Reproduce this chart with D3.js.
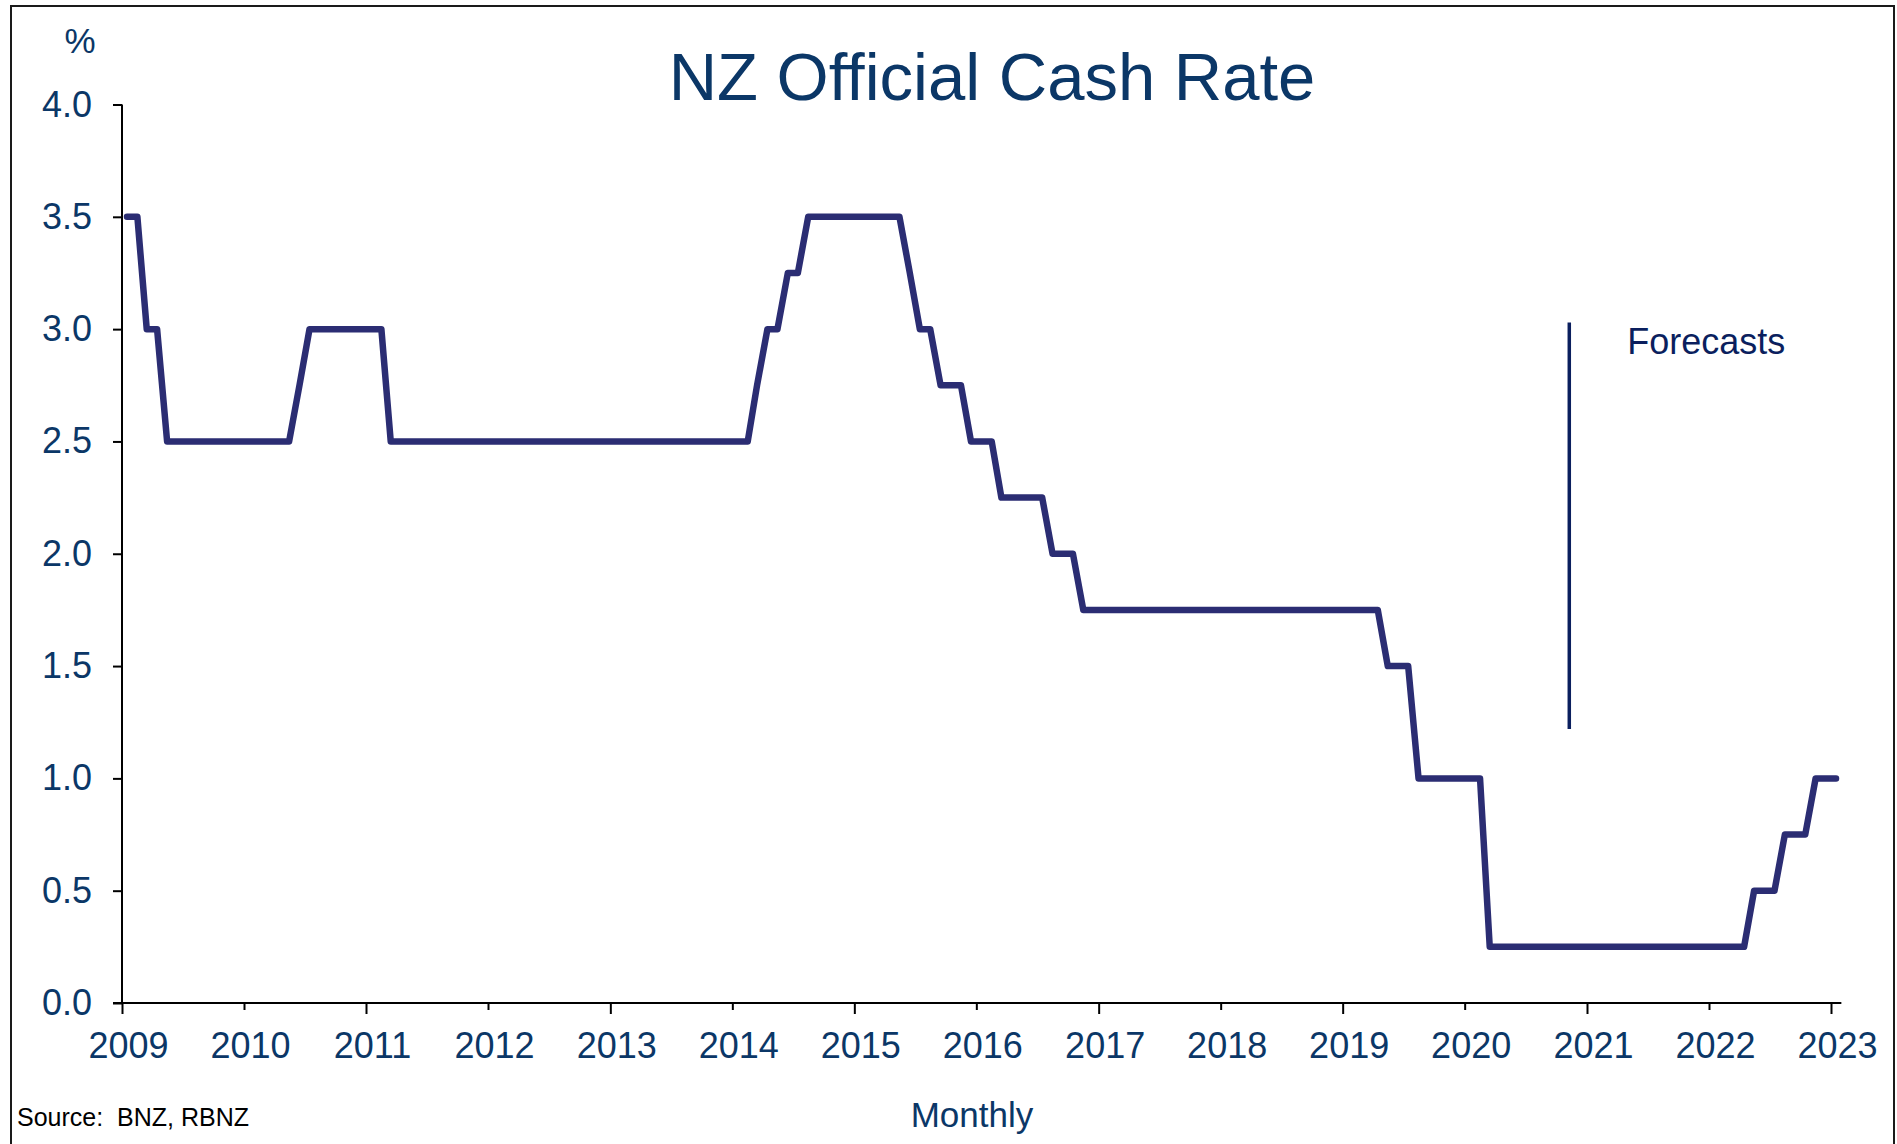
<!DOCTYPE html>
<html>
<head>
<meta charset="utf-8">
<script src="https://unpkg.com/d3@7.8.5/dist/d3.min.js"></script>
<style>
  body { margin: 0; background: #fff; }
  text { font-family: "Liberation Sans", Arial, sans-serif; }
</style>
</head>
<body>
<div id="chart"></div>
<script>
// monthly OCR, end of month, Jan 2009 .. Jan 2023 (last months are forecasts)
let startMonth = new Date(2009, 0, 16);
let ocr = [
  3.5, 3.5, 3.0, 3.0, 2.5, 2.5, 2.5, 2.5, 2.5, 2.5, 2.5, 2.5,        // 2009
  2.5, 2.5, 2.5, 2.5, 2.5, 2.75, 3.0, 3.0, 3.0, 3.0, 3.0, 3.0,       // 2010
  3.0, 3.0, 2.5, 2.5, 2.5, 2.5, 2.5, 2.5, 2.5, 2.5, 2.5, 2.5,        // 2011
  2.5, 2.5, 2.5, 2.5, 2.5, 2.5, 2.5, 2.5, 2.5, 2.5, 2.5, 2.5,        // 2012
  2.5, 2.5, 2.5, 2.5, 2.5, 2.5, 2.5, 2.5, 2.5, 2.5, 2.5, 2.5,        // 2013
  2.5, 2.5, 2.75, 3.0, 3.0, 3.25, 3.25, 3.5, 3.5, 3.5, 3.5, 3.5,     // 2014
  3.5, 3.5, 3.5, 3.5, 3.5, 3.25, 3.0, 3.0, 2.75, 2.75, 2.75, 2.5,    // 2015
  2.5, 2.5, 2.25, 2.25, 2.25, 2.25, 2.25, 2.0, 2.0, 2.0, 1.75, 1.75, // 2016
  1.75, 1.75, 1.75, 1.75, 1.75, 1.75, 1.75, 1.75, 1.75, 1.75, 1.75, 1.75, // 2017
  1.75, 1.75, 1.75, 1.75, 1.75, 1.75, 1.75, 1.75, 1.75, 1.75, 1.75, 1.75, // 2018
  1.75, 1.75, 1.75, 1.75, 1.5, 1.5, 1.5, 1.0, 1.0, 1.0, 1.0, 1.0,    // 2019
  1.0, 1.0, 0.25, 0.25, 0.25, 0.25, 0.25, 0.25, 0.25, 0.25, 0.25, 0.25, // 2020
  0.25, 0.25, 0.25, 0.25, 0.25, 0.25, 0.25, 0.25, 0.25, 0.25, 0.25, 0.25, // 2021
  0.25, 0.25, 0.25, 0.25, 0.5, 0.5, 0.5, 0.75, 0.75, 0.75, 1.0, 1.0, // 2022
  1.0                                                                // 2023
];

let yTicks = [0, 0.5, 1.0, 1.5, 2.0, 2.5, 3.0, 3.5, 4.0];
let years = d3.range(2009, 2024);

// forecast marker
let forecastDate = new Date(2020, 10, 9);
let forecastRange = [1.22, 3.03];

let width = 1897;
let height = 1144;
let navy = "#0b3767";

let svg = d3.select("#chart").append("svg")
    .attr("width", width)
    .attr("height", height);

// outer frame
svg.append("rect")
    .attr("x", 11).attr("y", 6)
    .attr("width", 1883).attr("height", 1200)
    .attr("fill", "none")
    .attr("stroke", "#1a1a1a")
    .attr("stroke-width", 2);

let x = d3.scaleTime()
    .domain([new Date(2009, 0, 1), new Date(2023, 0, 1)])
    .range([122, 1831]);

let y = d3.scaleLinear()
    .domain([0, 4])
    .range([1003, 104.5]);

let data = ocr.map((v, i) => ({
    date: d3.timeMonth.offset(startMonth, i),
    value: v
}));

// y axis
let yAxis = svg.append("g")
    .attr("transform", "translate(122,0)")
    .call(d3.axisLeft(y)
        .tickValues(yTicks)
        .tickFormat(d3.format(".1f"))
        .tickSize(9)
        .tickPadding(21));
yAxis.select(".domain").remove();
yAxis.selectAll(".tick line").attr("stroke", "#000").attr("stroke-width", 2);
yAxis.selectAll(".tick text")
    .attr("fill", navy)
    .attr("font-size", 36)
    .style("font-family", "'Liberation Sans', Arial, sans-serif");
svg.append("line")
    .attr("x1", 122).attr("x2", 122)
    .attr("y1", y(4)).attr("y2", y(0))
    .attr("stroke", "#000").attr("stroke-width", 2);

// x axis
let xAxis = svg.append("g")
    .attr("transform", `translate(0,${y(0)})`)
    .call(d3.axisBottom(x)
        .tickValues(years.map(yr => new Date(yr, 0, 1)))
        .tickFormat(d3.timeFormat("%Y"))
        .tickSize(11)
        .tickPadding(18));
xAxis.select(".domain").remove();
xAxis.selectAll(".tick line")
    .attr("stroke", "#000").attr("stroke-width", 2)
    .attr("y2", d => d.getFullYear() % 2 === 0 ? 7 : 11);
xAxis.selectAll(".tick text")
    .attr("fill", navy)
    .attr("font-size", 36)
    .attr("dx", 6)
    .style("font-family", "'Liberation Sans', Arial, sans-serif");
svg.append("line")
    .attr("x1", 113).attr("x2", x(new Date(2023, 1, 1)))
    .attr("y1", y(0)).attr("y2", y(0))
    .attr("stroke", "#000").attr("stroke-width", 2);

// OCR line
let line = d3.line()
    .x(d => x(d.date))
    .y(d => y(d.value));

svg.append("path")
    .datum(data)
    .attr("d", line)
    .attr("fill", "none")
    .attr("stroke", "#2b2d73")
    .attr("stroke-width", 6.5)
    .attr("stroke-linejoin", "round")
    .attr("stroke-linecap", "round");

// forecast divider
svg.append("line")
    .attr("x1", x(forecastDate)).attr("x2", x(forecastDate))
    .attr("y1", y(forecastRange[1])).attr("y2", y(forecastRange[0]))
    .attr("stroke", "#0b1f5e")
    .attr("stroke-width", 3.5);

svg.append("text")
    .attr("x", x(forecastDate) + 58)
    .attr("y", y(forecastRange[1]) + 32)
    .attr("fill", "#0b1f5e")
    .attr("font-size", 36)
    .text("Forecasts");

// titles and labels
svg.append("text")
    .attr("x", 992).attr("y", 100)
    .attr("text-anchor", "middle")
    .attr("fill", navy)
    .attr("font-size", 67)
    .text("NZ Official Cash Rate");

svg.append("text")
    .attr("x", 80).attr("y", 53)
    .attr("text-anchor", "middle")
    .attr("fill", navy)
    .attr("font-size", 35)
    .text("%");

svg.append("text")
    .attr("x", 972).attr("y", 1127)
    .attr("text-anchor", "middle")
    .attr("fill", navy)
    .attr("font-size", 35)
    .text("Monthly");

svg.append("text")
    .attr("x", 17).attr("y", 1126)
    .attr("fill", "#000")
    .attr("font-size", 25)
    .attr("xml:space", "preserve")
    .style("white-space", "pre")
    .text("Source:  BNZ, RBNZ");
</script>
</body>
</html>
